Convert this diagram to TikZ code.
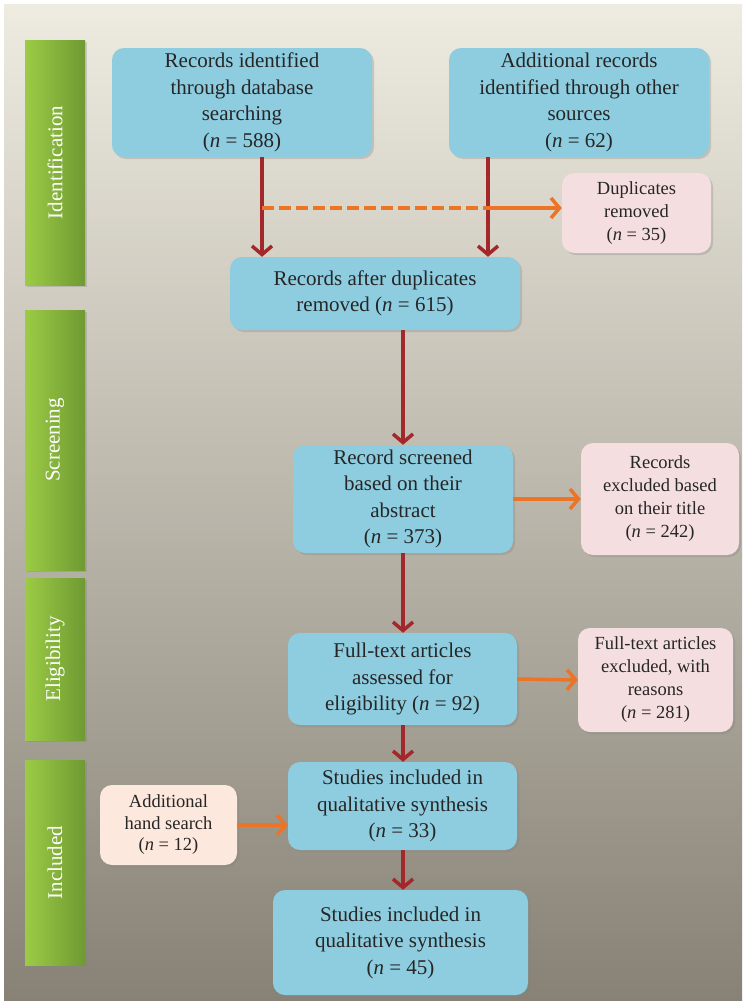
\documentclass[tikz,border=0pt]{standalone}
\usepackage{fontspec}
\setmainfont{Liberation Serif}
\usetikzlibrary{arrows.meta, positioning, shadows}
\definecolor{boxblue}{HTML}{8DCDDF}
\definecolor{boxpink}{HTML}{F5DEDF}
\definecolor{boxpeach}{HTML}{FCE8DC}
\definecolor{flowred}{HTML}{A3282C}
\definecolor{floworange}{HTML}{EC7427}
\definecolor{barlight}{HTML}{9CCB45}
\definecolor{bardark}{HTML}{6F9A33}
\definecolor{bgtop}{HTML}{EEEBE0}
\definecolor{bgmid}{HTML}{BDB9AB}
\definecolor{bgbot}{HTML}{888276}

\begin{document}
\begin{tikzpicture}[
  x=1pt, y=-1pt,
  box/.style={rounded corners=12pt, fill=boxblue, text=black!85, align=center, inner sep=3pt, font=\fontsize{21}{26.5}\selectfont, drop shadow={opacity=0.3, shadow xshift=2pt, shadow yshift=-2pt}},
  excl/.style={box, fill=boxpink, font=\fontsize{18.5}{23}\selectfont},
  hand/.style={box, fill=boxpeach, font=\fontsize{18.5}{21.5}\selectfont},
  stage/.style={rotate=90, text=white, left color=barlight, right color=bardark, minimum height=60pt, inner sep=0pt, font=\fontsize{21}{25}\selectfont, drop shadow={opacity=0.3, shadow xshift=2pt, shadow yshift=-2pt}},
  arr/.style={draw=flowred, line width=3.5pt, -{Straight Barb[length=8.5pt, width=20pt]}},
  side/.style={draw=floworange, line width=3.5pt, -{Straight Barb[length=8.5pt, width=20pt]}},
]

% background
\useasboundingbox (0,0) rectangle (742,1001);
\fill[top color=bgtop, middle color=bgmid, bottom color=bgbot] (4,4) rectangle (742,1001);

% stages
\node[stage, minimum width=245pt] (ident) at (55,162.5) {Identification};
\node[stage, minimum width=260pt] (screen) at (55,440) {Screening};
\node[stage, minimum width=162pt] (elig) at (55,659) {Eligibility};
\node[stage, minimum width=205pt] (inc) at (55,862.5) {Included};

% boxes
\node[box, minimum width=260pt, minimum height=109pt] (db) at (242,102.5) {Records identified\\through database\\searching\\(\textit{n} = 588)};
\node[box, minimum width=260pt, minimum height=109pt] (other) at (579,102.5) {Additional records\\identified through other\\sources\\(\textit{n} = 62)};
\node[excl, minimum width=149pt, minimum height=80pt] (dup) at (636.5,213) {Duplicates\\removed\\(\textit{n} = 35)};
\node[box, minimum width=290pt, minimum height=73pt] (after) at (375,293.5) {Records after duplicates\\removed (\textit{n} = 615)};
\node[box, minimum width=220pt, minimum height=108pt] (scr) at (403,499) {Record screened\\based on their\\abstract\\(\textit{n} = 373)};
\node[excl, minimum width=158pt, minimum height=112pt] (scrx) at (660,499) {Records\\excluded based\\on their title\\(\textit{n} = 242)};
\node[box, minimum width=229pt, minimum height=92pt] (ft) at (402.5,679) {Full-text articles\\assessed for\\eligibility (\textit{n} = 92)};
\node[excl, minimum width=155pt, minimum height=104pt] (ftx) at (655.5,680) {Full-text articles\\excluded, with\\reasons\\(\textit{n} = 281)};
\node[box, minimum width=229pt, minimum height=88pt] (incl) at (402.5,806) {Studies included in\\qualitative synthesis\\(\textit{n} = 33)};
\node[hand, minimum width=137pt, minimum height=80pt] (hs) at (168.5,825) {Additional\\hand search\\(\textit{n} = 12)};
\node[box, minimum width=255pt, minimum height=105pt] (final) at (400.5,942.5) {Studies included in\\qualitative synthesis\\(\textit{n} = 45)};

% connectors
\coordinate (lsplit) at (262,208);
\coordinate (rsplit) at (488,208);
\coordinate (col) at (403,0);
\draw[arr] (db.south -| lsplit) -- (after.north -| lsplit);
\draw[arr] (other.south -| rsplit) -- (after.north -| rsplit);
\draw[side, -, dash pattern=on 12pt off 5pt] (lsplit) -- (rsplit);
\draw[side] (rsplit) -- (rsplit -| dup.west);
\draw[arr] (after.south -| col) -- (scr.north -| col);
\draw[side] (scr.east) -- (scrx.west);
\draw[arr] (scr.south -| col) -- (ft.north -| col);
\draw[side] (ft.east) -- (ftx.west);
\draw[arr] (ft.south -| col) -- (incl.north -| col);
\draw[side] (hs.east) -- (hs.east -| incl.west);
\draw[arr] (incl.south -| col) -- (final.north -| col);

\end{tikzpicture}
\end{document}
